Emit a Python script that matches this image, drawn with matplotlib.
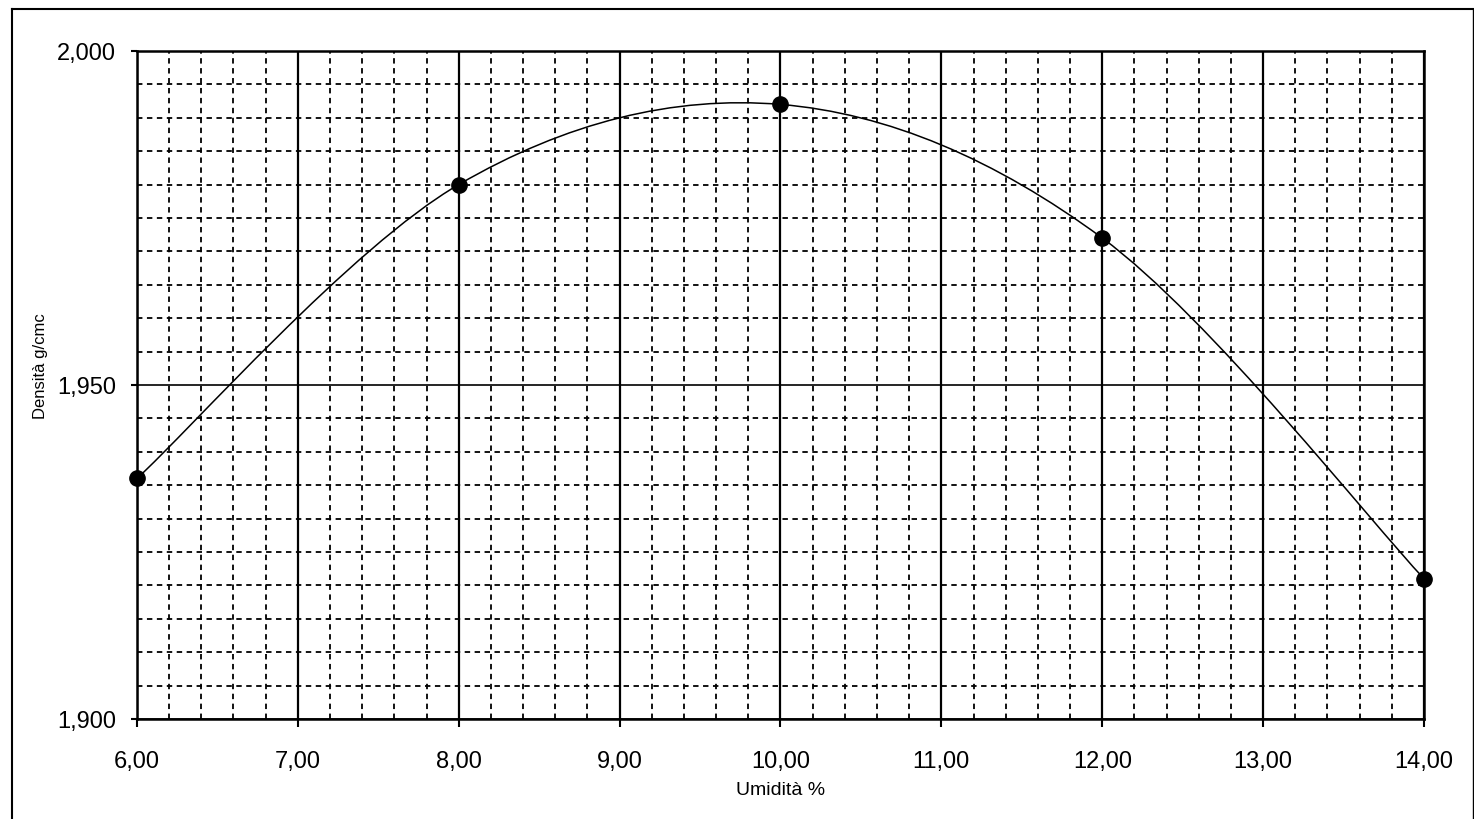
#! /usr/bin python

"""
Curva di costipamento: densita secca contro umidita, con la linea
smussata tipo foglio di calcolo che passa per i punti di prova.
"""
import matplotlib.pyplot as plt
import numpy as np
from matplotlib.path import Path
from matplotlib.patches import PathPatch
from matplotlib.lines import Line2D
from matplotlib.ticker import MultipleLocator, FuncFormatter

plt.rcParams['font.family'] = ['Liberation Sans', 'DejaVu Sans']

# punti di prova
umidita = [6.0, 8.0, 10.0, 12.0, 14.0]
densita = [1.936, 1.980, 1.992, 1.972, 1.921]

x_ticks = [6, 7, 8, 9, 10, 11, 12, 13, 14]
y_ticks = [1.900, 1.950, 2.000]


def smooth_path(xs, ys):
    """Bezier path through the points, Catmull-Rom style (like Excel)."""
    pts = np.column_stack([xs, ys])
    n = len(pts)
    verts = [pts[0]]
    codes = [Path.MOVETO]
    for i in range(n - 1):
        p0 = pts[i - 1] if i > 0 else pts[i]
        p1 = pts[i]
        p2 = pts[i + 1]
        p3 = pts[i + 2] if i + 2 < n else pts[i + 1]
        c1 = p1 + (p2 - p0) / 6.0
        c2 = p2 - (p3 - p1) / 6.0
        verts += [c1, c2, p2]
        codes += [Path.CURVE4] * 3
    return Path(verts, codes)


def draw_graph():
    fig = plt.figure(figsize=(14.74, 8.2), dpi=100)
    fig.patch.set_fc('white')
    ax = fig.add_axes([0.0929, 0.1220, 0.8732, 0.8146])

    # cornice esterna della pagina
    fig.add_artist(Line2D([0.008, 0.008], [-0.1, 0.988], color='black', lw=1.5,
                          transform=fig.transFigure))
    fig.add_artist(Line2D([0.008, 0.999], [0.988, 0.988], color='black', lw=1.5,
                          transform=fig.transFigure))
    fig.add_artist(Line2D([0.999, 0.999], [-0.1, 0.988], color='black', lw=1.0,
                          transform=fig.transFigure))

    ax.set_xlim(6, 14)
    ax.set_ylim(1.900, 2.000)
    ax.set_xticks(x_ticks)
    ax.set_yticks(y_ticks)
    ax.xaxis.set_minor_locator(MultipleLocator(0.2))
    ax.yaxis.set_minor_locator(MultipleLocator(0.005))
    ax.xaxis.set_major_formatter(FuncFormatter(lambda v, p: f"{v:.2f}".replace('.', ',')))
    ax.yaxis.set_major_formatter(FuncFormatter(lambda v, p: f"{v:.3f}".replace('.', ',')))

    # griglia: principale continua, secondaria tratteggiata
    ax.grid(which='minor', color='black', lw=1.3, linestyle=(0, (3, 2.5)))
    ax.grid(which='major', axis='x', color='black', lw=1.6, linestyle='-')
    ax.grid(which='major', axis='y', color='black', lw=1.2, linestyle='-')
    ax.set_axisbelow(True)

    for side in ax.spines.values():
        side.set_linewidth(1.8)
        side.set_color('black')

    ax.tick_params(which='minor', length=0)
    ax.tick_params(axis='x', which='major', direction='out', length=6, width=1.5,
                   pad=16, labelsize=17)
    ax.tick_params(axis='y', which='major', direction='out', length=4, width=1.5,
                   pad=11, labelsize=17)

    curve = PathPatch(smooth_path(umidita, densita), facecolor='none',
                      edgecolor='black', lw=1.1, transform=ax.transData, zorder=3)
    ax.add_patch(curve)
    ax.plot(umidita, densita, linestyle='none', marker='o', markersize=11,
            color='black', zorder=4, clip_on=False)

    ax.set_xlabel("Umidità %", fontsize=14, labelpad=7)
    ax.set_ylabel("Densità g/cmc", fontsize=12)
    ax.yaxis.set_label_coords(-0.069, 0.53)

    fig.savefig('out.png', dpi=100)


if __name__ == '__main__':
    draw_graph()
